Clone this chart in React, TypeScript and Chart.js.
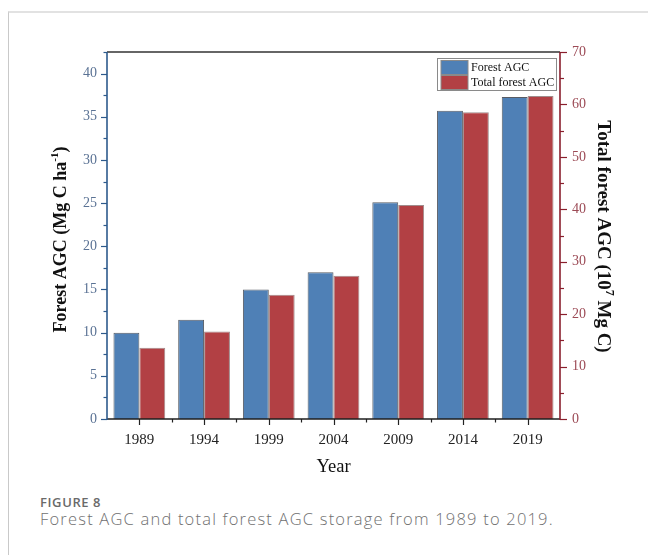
import React, { useEffect, useRef } from "react";
import { Chart, registerables } from "chart.js";

Chart.register(...registerables);

// Survey years and the two series (left axis: Mg C ha-1, right axis: 10^7 Mg C)
const years = ["1989", "1994", "1999", "2004", "2009", "2014", "2019"];
const forestAgc = [10.0, 11.5, 15.0, 17.0, 25.1, 35.7, 37.3];
const totalForestAgc = [13.6, 16.7, 23.7, 27.3, 40.8, 58.5, 61.6];

const leftTicks = [0, 5, 10, 15, 20, 25, 30, 35, 40];
const rightTicks = [0, 10, 20, 30, 40, 50, 60, 70];
const leftMax = 42.5;
const rightMax = 70;

const BLUE = "#4f80b6";
const RED = "#b24044";
const LEFT_AXIS = "#2d5a8c";
const RIGHT_AXIS = "#8a1f2d";
const SERIF = "'Liberation Serif', 'Times New Roman', serif";

type Part = { t: string; sup?: boolean };

function drawRich(ctx: CanvasRenderingContext2D, parts: Part[], size: number) {
  const supSize = Math.round(size * 0.62);
  const fontFor = (p: Part) => `bold ${p.sup ? supSize : size}px ${SERIF}`;
  let total = 0;
  for (const p of parts) {
    ctx.font = fontFor(p);
    total += ctx.measureText(p.t).width;
  }
  let x = -total / 2;
  ctx.textBaseline = "alphabetic";
  ctx.textAlign = "left";
  for (const p of parts) {
    ctx.font = fontFor(p);
    ctx.fillText(p.t, x, p.sup ? -size * 0.4 : 0);
    x += ctx.measureText(p.t).width;
  }
}

const framePlugin = {
  id: "frame",
  afterDraw(chart: any) {
    const { ctx, chartArea: a, scales } = chart;
    const yL = scales.y;
    const yR = scales.y1;
    const xs = scales.x;
    ctx.save();

    // left axis ticks (major every 5, minor every 2.5)
    ctx.strokeStyle = LEFT_AXIS;
    ctx.lineWidth = 1.2;
    for (let v = 0; v <= leftMax + 1e-6; v += 2.5) {
      const y = Math.round(yL.getPixelForValue(v)) + 0.5;
      const len = v % 5 === 0 ? 6 : 3.5;
      ctx.beginPath();
      ctx.moveTo(a.left, y);
      ctx.lineTo(a.left - len, y);
      ctx.stroke();
    }
    // right axis ticks (major every 10, minor every 5)
    ctx.strokeStyle = RIGHT_AXIS;
    for (let v = 0; v <= rightMax + 1e-6; v += 5) {
      const y = Math.round(yR.getPixelForValue(v)) + 0.5;
      const len = v % 10 === 0 ? 7 : 4;
      ctx.beginPath();
      ctx.moveTo(a.right, y);
      ctx.lineTo(a.right + len, y);
      ctx.stroke();
    }
    // bottom ticks: major at category centres, minor at boundaries
    ctx.strokeStyle = "#222";
    const n = years.length;
    const step = (a.right - a.left) / n;
    for (let i = 0; i < n; i++) {
      const cx = Math.round(xs.getPixelForValue(i)) + 0.5;
      ctx.beginPath();
      ctx.moveTo(cx, a.bottom);
      ctx.lineTo(cx, a.bottom + 6);
      ctx.stroke();
      if (i > 0) {
        const bx = Math.round(a.left + step * i) + 0.5;
        ctx.beginPath();
        ctx.moveTo(bx, a.bottom);
        ctx.lineTo(bx, a.bottom + 3.5);
        ctx.stroke();
      }
    }

    // frame lines
    ctx.lineWidth = 1.6;
    ctx.strokeStyle = "#333";
    ctx.beginPath();
    ctx.moveTo(a.left, a.top);
    ctx.lineTo(a.right, a.top);
    ctx.stroke();
    ctx.strokeStyle = "#1e1e1e";
    ctx.beginPath();
    ctx.moveTo(a.left, a.bottom);
    ctx.lineTo(a.right, a.bottom);
    ctx.stroke();
    ctx.strokeStyle = LEFT_AXIS;
    ctx.beginPath();
    ctx.moveTo(a.left, a.top);
    ctx.lineTo(a.left, a.bottom + 1);
    ctx.stroke();
    ctx.strokeStyle = RIGHT_AXIS;
    ctx.beginPath();
    ctx.moveTo(a.right, a.top);
    ctx.lineTo(a.right, a.bottom + 1);
    ctx.stroke();

    // legend
    const lx = a.right - 122.5;
    const ly = a.top + 6.5;
    ctx.fillStyle = "#fff";
    ctx.fillRect(lx, ly, 119, 32);
    ctx.lineWidth = 1;
    ctx.strokeStyle = "#8a8a8a";
    ctx.strokeRect(lx, ly, 119, 32);
    const sw = [
      { c: BLUE, label: "Forest AGC", y: ly + 2 },
      { c: RED, label: "Total forest AGC", y: ly + 17 },
    ];
    for (const s of sw) {
      ctx.fillStyle = s.c;
      ctx.fillRect(lx + 3.5, s.y, 27, 14);
      ctx.strokeStyle = "#8a8a8a";
      ctx.strokeRect(lx + 3.5, s.y, 27, 14);
      ctx.fillStyle = "#111";
      ctx.font = `12px ${SERIF}`;
      ctx.textBaseline = "middle";
      ctx.textAlign = "left";
      ctx.fillText(s.label, lx + 33.5, s.y + 7.5);
    }

    // axis titles
    const cy = (a.top + a.bottom) / 2;
    ctx.fillStyle = "#111";
    ctx.save();
    ctx.translate(65.5, cy + 4);
    ctx.rotate(-Math.PI / 2);
    drawRich(ctx, [{ t: "Forest AGC (Mg C ha" }, { t: "-1", sup: true }, { t: ")" }], 18);
    ctx.restore();

    ctx.save();
    ctx.translate(598, cy + 1);
    ctx.rotate(Math.PI / 2);
    drawRich(ctx, [{ t: "Total forest AGC (10" }, { t: "7", sup: true }, { t: " Mg C)" }], 19);
    ctx.restore();

    ctx.font = `18.5px ${SERIF}`;
    ctx.textAlign = "center";
    ctx.textBaseline = "middle";
    ctx.fillText("Year", (a.left + a.right) / 2, 467);

    ctx.restore();
  },
};

export default function App() {
  const ref = useRef<HTMLCanvasElement | null>(null);

  useEffect(() => {
    if (!ref.current) return;
    const chart = new Chart(ref.current, {
      type: "bar",
      data: {
        labels: years,
        datasets: [
          {
            label: "Forest AGC",
            data: forestAgc,
            yAxisID: "y",
            backgroundColor: BLUE,
            borderColor: "#585c64",
            borderWidth: 1,
            categoryPercentage: 0.8,
            barPercentage: 1.0,
          },
          {
            label: "Total forest AGC",
            data: totalForestAgc,
            yAxisID: "y1",
            backgroundColor: RED,
            borderColor: "#a08c8c",
            borderWidth: 1,
            categoryPercentage: 0.8,
            barPercentage: 1.0,
          },
        ],
      },
      plugins: [framePlugin],
      options: {
        animation: false,
        responsive: false,
        devicePixelRatio: 1,
        layout: { padding: { top: 52, left: 0, right: 0, bottom: 0 } },
        plugins: {
          legend: { display: false },
          tooltip: { enabled: false },
        },
        scales: {
          x: {
            type: "category",
            grid: { display: false, drawTicks: false },
            border: { display: false },
            ticks: {
              color: "#222",
              font: { family: SERIF, size: 15 },
              padding: 12,
              maxRotation: 0,
            },
            afterFit: (s: any) => {
              s.height = 61;
            },
          },
          y: {
            type: "linear",
            position: "left",
            min: 0,
            max: leftMax,
            grid: { display: false, drawTicks: false },
            border: { display: false },
            ticks: {
              color: "#5a7294",
              font: { family: SERIF, size: 14 },
              padding: 10,
              includeBounds: false,
            },
            afterBuildTicks: (s: any) => {
              s.ticks = leftTicks.map((v) => ({ value: v }));
            },
            afterFit: (s: any) => {
              s.width = 107;
            },
          },
          y1: {
            type: "linear",
            position: "right",
            min: 0,
            max: rightMax,
            grid: { display: false, drawTicks: false },
            border: { display: false },
            ticks: {
              color: "#9c4a55",
              font: { family: SERIF, size: 14 },
              padding: 12,
              includeBounds: false,
            },
            afterBuildTicks: (s: any) => {
              s.ticks = rightTicks.map((v) => ({ value: v }));
            },
            afterFit: (s: any) => {
              s.width = 88;
            },
          },
        },
      },
    } as any);
    return () => chart.destroy();
  }, []);

  return (
    <div
      style={{
        position: "fixed",
        left: 0,
        top: 0,
        width: 648,
        height: 555,
        background: "#fff",
        overflow: "hidden",
      }}
    >
      <div
        style={{
          position: "absolute",
          left: 8,
          top: 11,
          width: 700,
          height: 600,
          borderTop: "2px solid #e2e2e2",
          borderLeft: "1px solid #c9c9c9",
        }}
      />
      <canvas
        ref={ref}
        width={648}
        height={480}
        style={{ position: "absolute", left: 0, top: 0, width: 648, height: 480 }}
      />
      <div
        style={{
          position: "absolute",
          left: 40,
          top: 494,
          fontFamily: "'Open Sans', 'Noto Sans', sans-serif",
          fontSize: 13,
          fontWeight: 600,
          letterSpacing: "0.6px",
          color: "#6a6a6a",
          lineHeight: "16px",
          whiteSpace: "nowrap",
        }}
      >
        FIGURE 8
      </div>
      <div
        style={{
          position: "absolute",
          left: 40,
          top: 509,
          fontFamily: "'Open Sans', 'Noto Sans', sans-serif",
          fontSize: 16.5,
          fontWeight: 300,
          letterSpacing: "1.2px",
          color: "#707070",
          lineHeight: "20px",
          whiteSpace: "nowrap",
        }}
      >
        Forest AGC and total forest AGC storage from 1989 to 2019.
      </div>
    </div>
  );
}
